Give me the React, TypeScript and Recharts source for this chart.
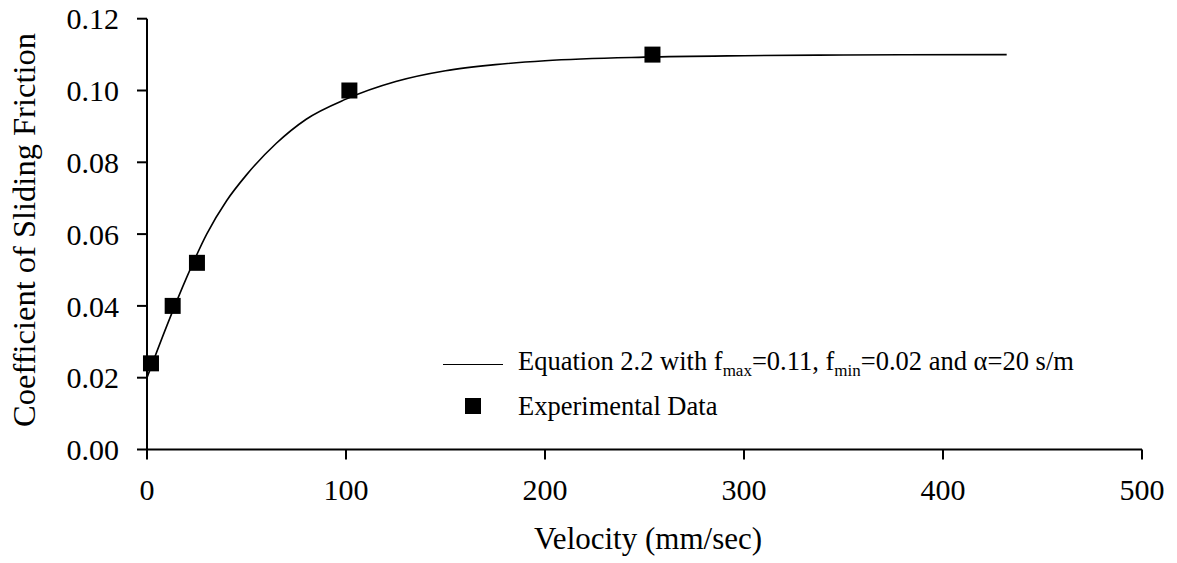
import { ComposedChart, Line, Scatter, XAxis, YAxis, Legend } from 'recharts'

// curve (velocity mm/sec -> friction coefficient)
const curveVelocity = [0, 10, 20, 30, 40, 50, 65, 80, 100, 125, 150, 175, 200, 250, 300, 350, 432]
const curveFriction = [0.02, 0.0345, 0.048, 0.06, 0.0693, 0.0765, 0.0853, 0.092, 0.0976, 0.1025, 0.1055, 0.1072, 0.1083, 0.1093, 0.1097, 0.1099, 0.11]

// experimental points
const expVelocity = [2, 12.9, 25.1, 101.7, 254]
const expFriction = [0.024, 0.04, 0.052, 0.1, 0.11]

const xTicks = [0, 100, 200, 300, 400, 500]
const yTicks = [0, 0.02, 0.04, 0.06, 0.08, 0.1, 0.12]

const curveData = curveVelocity.map((v, i) => ({ v, f: curveFriction[i] }))
const expData = expVelocity.map((v, i) => ({ v, f: expFriction[i] }))

const FONT = '"Liberation Serif", "Times New Roman", serif'
const tickStyle = { fill: '#000', fontSize: 30, fontFamily: FONT }

const SquareDot = (props: any) => {
    const { cx, cy } = props
    if (cx == null || cy == null) return null
    return <rect x={cx - 8} y={cy - 8} width={16} height={16} fill="#000" />
}

const LegendBox = () => (
    <div style={{ fontFamily: FONT, fontSize: 26.5, color: '#000', lineHeight: 1 }}>
        <div style={{ display: 'flex', alignItems: 'center', height: 42 }}>
            <div style={{ width: 78, display: 'flex', alignItems: 'center' }}>
                <div style={{ marginLeft: 3, width: 60, borderTop: '1.6px solid #000' }} />
            </div>
            <span style={{ whiteSpace: 'nowrap' }}>
                Equation 2.2 with f<sub style={{ fontSize: 17 }}>max</sub>=0.11, f
                <sub style={{ fontSize: 17 }}>min</sub>=0.02 and α=20 s/m
            </span>
        </div>
        <div style={{ display: 'flex', alignItems: 'center', height: 42 }}>
            <div style={{ width: 78, display: 'flex', alignItems: 'center' }}>
                <div style={{ marginLeft: 25, width: 16, height: 16, background: '#000' }} />
            </div>
            <span style={{ whiteSpace: 'nowrap' }}>Experimental Data</span>
        </div>
    </div>
)

export default function App() {
    return (
        <div style={{ position: 'absolute', left: 0, top: 0, background: '#fff' }}>
            <ComposedChart
                width={1177}
                height={563}
                margin={{ top: 18.7, right: 35, bottom: 53.5, left: 47 }}
            >
                <XAxis
                    type="number"
                    dataKey="v"
                    domain={[0, 500]}
                    ticks={xTicks}
                    interval={0}
                    stroke="#000"
                    strokeWidth={2}
                    tickSize={10}
                    tickMargin={19}
                    tick={tickStyle}
                    height={60}
                    label={{
                        content: () => (
                            <text x={648} y={549} textAnchor="middle" fontSize={31} fontFamily={FONT} fill="#000">
                                Velocity (mm/sec)
                            </text>
                        ),
                    }}
                />
                <XAxis
                    xAxisId="top"
                    orientation="top"
                    type="number"
                    domain={[0, 500]}
                    height={0}
                    tick={false}
                    tickLine={false}
                    stroke="#000"
                    strokeWidth={2}
                />
                <YAxis
                    type="number"
                    domain={[0, 0.12]}
                    ticks={yTicks}
                    interval={0}
                    width={100}
                    stroke="#000"
                    strokeWidth={2}
                    tickSize={10}
                    tickMargin={18}
                    tick={tickStyle}
                    tickFormatter={(value) => value.toFixed(2)}
                    label={{
                        content: () => (
                            <text
                                x={35}
                                y={230}
                                transform="rotate(-90 35 230)"
                                textAnchor="middle"
                                fontSize={32.5}
                                fontFamily={FONT}
                                fill="#000"
                            >
                                Coefficient of Sliding Friction
                            </text>
                        ),
                    }}
                />
                <YAxis
                    yAxisId="right"
                    orientation="right"
                    domain={[0, 0.12]}
                    width={0}
                    tick={false}
                    tickLine={false}
                    stroke="#000"
                    strokeWidth={2}
                />
                <Legend
                    layout="vertical"
                    verticalAlign="middle"
                    align="center"
                    content={() => <LegendBox />}
                    wrapperStyle={{ left: 440, top: 343, width: 'auto' }}
                />
                <Line
                    data={curveData}
                    dataKey="f"
                    type="monotone"
                    stroke="#000"
                    strokeWidth={1.6}
                    dot={false}
                    isAnimationActive={false}
                />
                <Scatter data={expData} dataKey="f" fill="#000" shape={SquareDot} isAnimationActive={false} />
            </ComposedChart>
        </div>
    )
}
